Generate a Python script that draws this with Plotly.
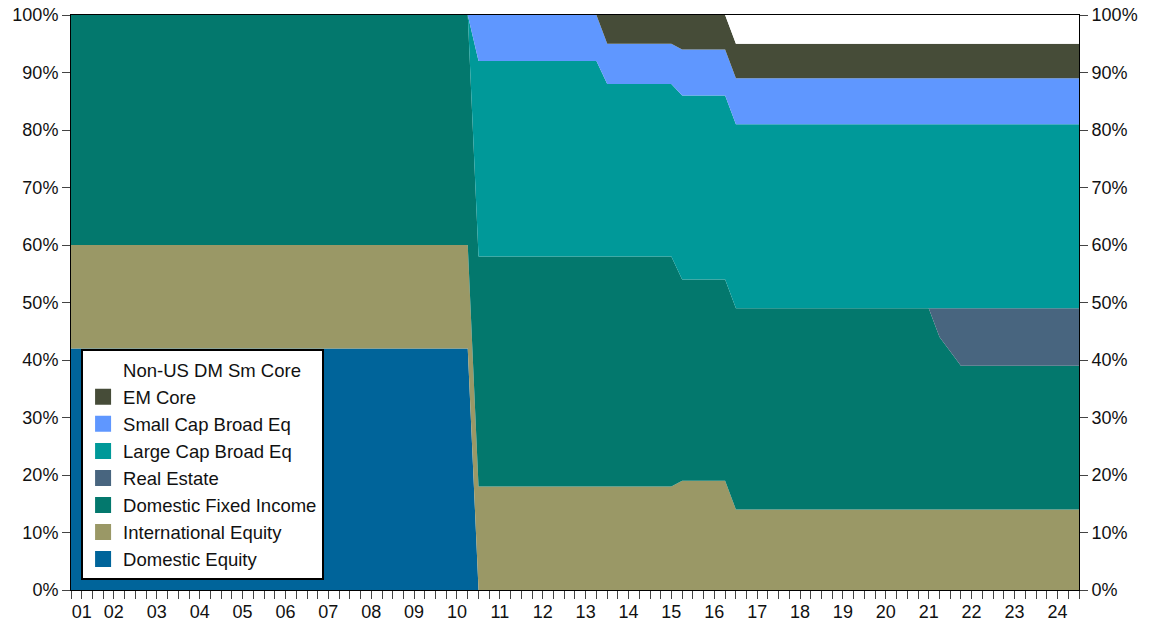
import plotly.graph_objects as go

# quarter boundaries where the allocation changes (start of quarter)
dates = ["2001-07-01", "2010-10-01", "2011-01-01", "2013-10-01", "2014-01-01",
         "2015-07-01", "2015-10-01", "2016-10-01", "2017-01-01", "2021-07-01",
         "2021-10-01", "2022-01-01", "2022-04-01", "2025-01-01"]

domestic_equity = [42, 42, 0, 0, 0, 0, 0, 0, 0, 0, 0, 0, 0, 0]
international_equity = [18, 18, 18, 18, 18, 18, 19, 19, 14, 14, 14, 14, 14, 14]
domestic_fixed_income = [40, 40, 40, 40, 40, 40, 35, 35, 35, 35, 30, 27.5, 25, 25]
real_estate = [0, 0, 0, 0, 0, 0, 0, 0, 0, 0, 5, 7.5, 10, 10]
large_cap = [0, 0, 34, 34, 30, 30, 32, 32, 32, 32, 32, 32, 32, 32]
small_cap = [0, 0, 8, 8, 7, 7, 8, 8, 8, 8, 8, 8, 8, 8]
em_core = [0, 0, 0, 0, 5, 5, 6, 6, 6, 6, 6, 6, 6, 6]
non_us_dm = [0, 0, 0, 0, 0, 0, 0, 0, 5, 5, 5, 5, 5, 5]

series = [
    ("Domestic Equity", domestic_equity, "#00649A"),
    ("International Equity", international_equity, "#9A9866"),
    ("Domestic Fixed Income", domestic_fixed_income, "#03786D"),
    ("Real Estate", real_estate, "#48657F"),
    ("Large Cap Broad Eq", large_cap, "#009999"),
    ("Small Cap Broad Eq", small_cap, "#5F97FF"),
    ("EM Core", em_core, "#464C38"),
    ("Non-US DM Sm Core", non_us_dm, "#FFFFFF"),
]

# year labels sit in the middle of each (visible) year
year_ticks = ["2001-10-01"] + ["%d-07-01" % y for y in range(2002, 2025)]
year_text = ["%02d" % (y % 100) for y in range(2001, 2025)]

pct = list(range(0, 101, 10))
pct_text = ["%d%%" % p for p in pct]

font = "Liberation Sans, Arial, sans-serif"

fig = go.Figure()
for name, vals, color in series:
    fig.add_trace(go.Scatter(x=dates, y=vals, name=name, mode="none",
                             stackgroup="one", fillcolor=color,
                             showlegend=False, hoverinfo="skip"))

# square legend swatches
for name, vals, color in series:
    fig.add_trace(go.Scatter(x=[None], y=[None], name=name, mode="markers",
                             marker=dict(symbol="square", size=20, color=color)))

# dummy trace so the right-hand axis gets drawn
fig.add_trace(go.Scatter(x=[dates[0]], y=[0], yaxis="y2", mode="markers",
                         marker=dict(opacity=0), showlegend=False, hoverinfo="skip"))

fig.update_layout(
    width=1155, height=623,
    margin=dict(l=71, r=76, t=15, b=33),
    paper_bgcolor="white", plot_bgcolor="white",
    font=dict(family=font, size=18, color="#111"),
    xaxis=dict(type="date", range=["2001-07-01", "2025-01-01"],
               tickvals=year_ticks, ticktext=year_text,
               ticks="outside", ticklen=8, tickcolor="#444",
               minor=dict(ticks="outside", ticklen=8, tickcolor="#444",
                          dtick="M3", tick0="2001-07-01"),
               showgrid=False, showline=True, linecolor="black", mirror=True,
               automargin=False, ticklabelstandoff=-3, tickfont=dict(size=18)),
    yaxis=dict(range=[0, 100], tickvals=pct, ticktext=pct_text,
               ticks="outside", ticklen=8, tickcolor="#444", automargin=False,
               showgrid=False, showline=True, linecolor="black", zeroline=False),
    yaxis2=dict(range=[0, 100], tickvals=pct, ticktext=pct_text, overlaying="y",
                side="right", ticks="outside", ticklen=8, tickcolor="#444",
                automargin=False, showgrid=False, showline=True,
                linecolor="black", zeroline=False),
    legend=dict(x=0.01, y=0.017, xanchor="left", yanchor="bottom",
                bgcolor="white", bordercolor="black", borderwidth=2,
                traceorder="reversed", itemsizing="trace", font=dict(size=18.5)),
)

# drop the default page margin so the figure sits at the window's corner
fig.write_html("out.html", config={"displayModeBar": False},
               post_script="document.body.style.margin='0';")
